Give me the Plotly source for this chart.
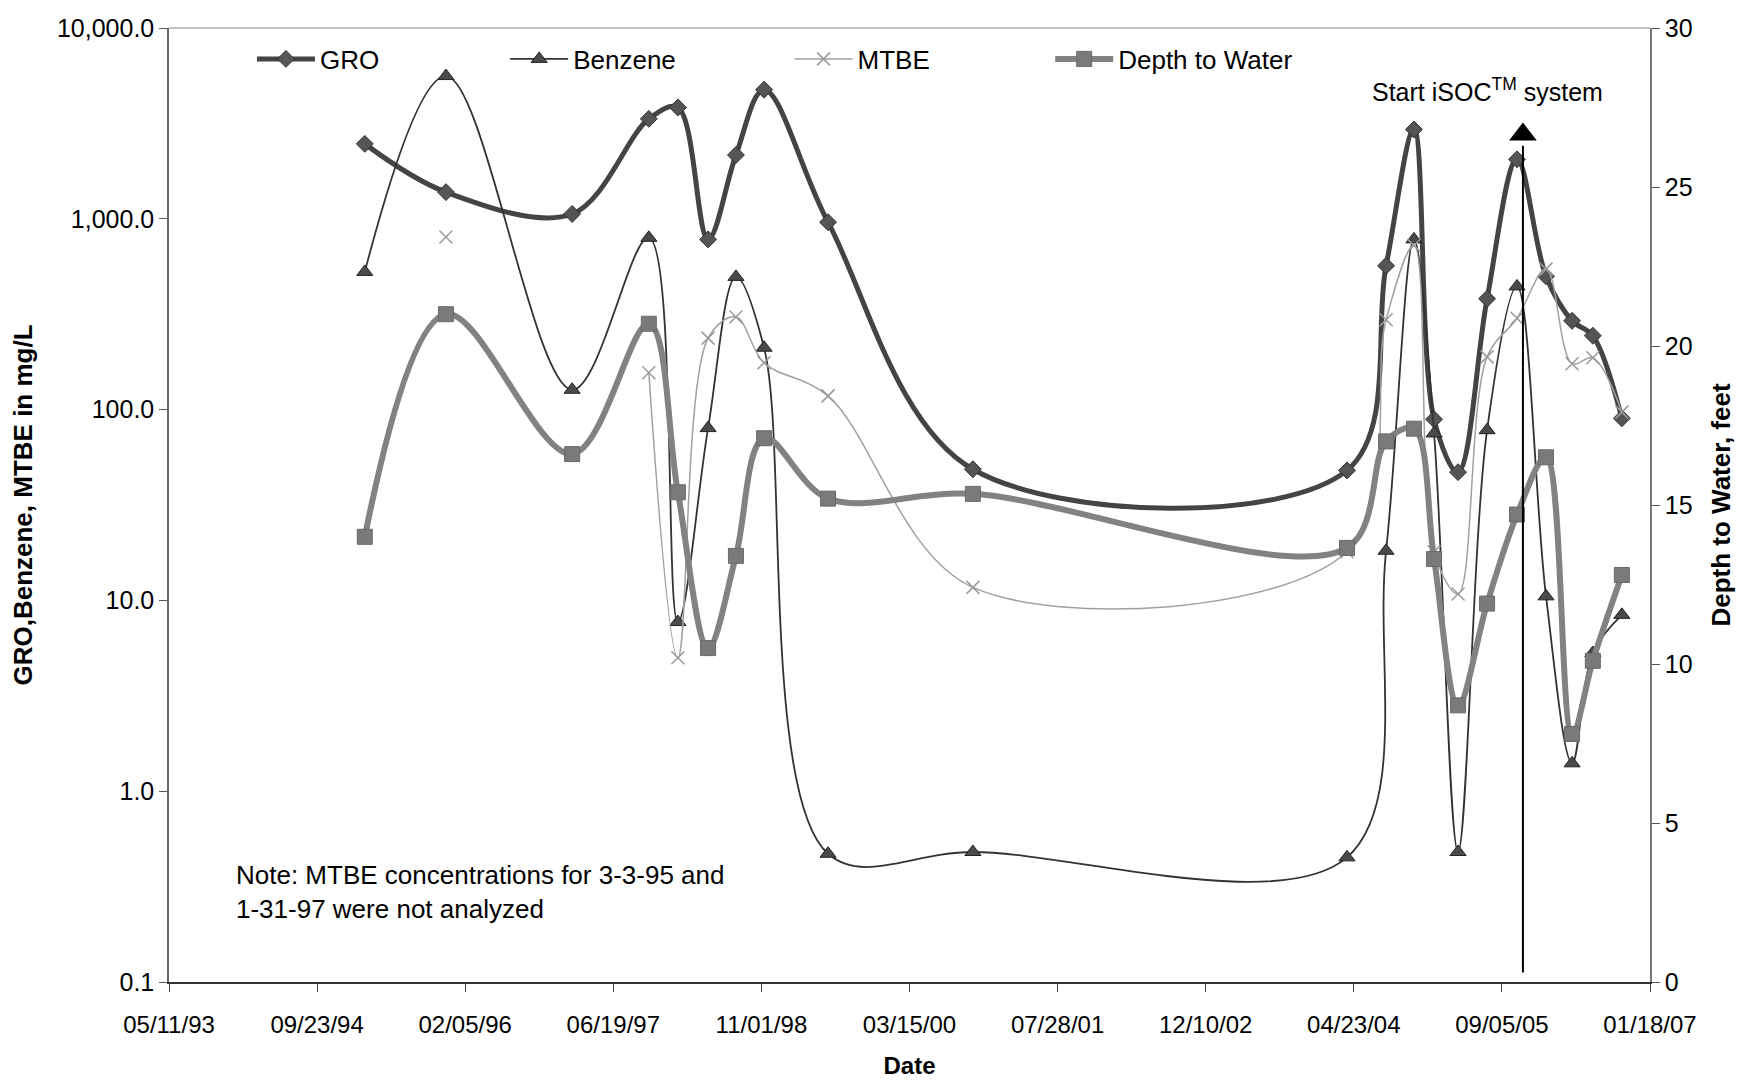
import plotly.graph_objects as go

# ---------------- data ----------------
dates = ["1995-03-03", "1995-12-02", "1997-01-31", "1997-10-17", "1998-01-23",
         "1998-05-05", "1998-08-07", "1998-11-10", "1999-06-14", "2000-10-15",
         "2004-03-31", "2004-08-10", "2004-11-12", "2005-01-19", "2005-04-10",
         "2005-07-17", "2005-10-26", "2006-02-01", "2006-04-30", "2006-07-09",
         "2006-10-15"]

gro = [2470, 1380, 1060, 3340, 3830, 780, 2160, 4750, 960, 48.7,
       48, 567, 2940, 89, 47, 381, 2050, 500, 292, 244, 90]

benzene = [527, 5600, 127, 795, 7.7, 80, 496, 211, 0.47, 0.48,
           0.45, 18.2, 780, 75, 0.48, 78, 442, 10.5, 1.4, 5.3, 8.4]

mtbe = [None, 803, None, 156, 5.0, 237, 306, 176, 118, 11.7,
        18, 296, 724, 18, 10.8, 189, 301, 545, 174, 187, 97]

depth = [14.0, 21.0, 16.6, 20.7, 15.4, 10.5, 13.4, 17.1, 15.2, 15.35,
         13.65, 17.0, 17.4, 13.3, 8.7, 11.9, 14.7, 16.5, 7.8, 10.1, 12.8]

x_tick_vals = ["1993-05-11", "1994-09-23", "1996-02-05", "1997-06-19", "1998-11-01",
               "2000-03-15", "2001-07-28", "2002-12-10", "2004-04-23", "2005-09-05",
               "2007-01-18"]
x_tick_text = ["05/11/93", "09/23/94", "02/05/96", "06/19/97", "11/01/98",
               "03/15/00", "07/28/01", "12/10/02", "04/23/04", "09/05/05", "01/18/07"]

y_tick_vals = [0.1, 1, 10, 100, 1000, 10000]
y_tick_text = ["0.1", "1.0", "10.0", "100.0", "1,000.0", "10,000.0"]
y2_tick_vals = [0, 5, 10, 15, 20, 25, 30]

isoc_date = "2005-11-15"
isoc_line_bottom = 0.3
isoc_line_top = 26.3
isoc_label_date = "2005-07-20"
isoc_label_depth = 28.05

FONT = "Arial, Liberation Sans, sans-serif"

fig = go.Figure()

fig.add_trace(go.Scatter(
    x=dates, y=gro, name="GRO", mode="lines+markers", legend="legend",
    line=dict(color="#444444", width=5, shape="spline", smoothing=1.0),
    marker=dict(symbol="diamond", size=13, color="#555555",
                line=dict(color="#333333", width=1)),
    yaxis="y"))

fig.add_trace(go.Scatter(
    x=dates, y=benzene, name="Benzene", mode="lines+markers", legend="legend2",
    line=dict(color="#333333", width=1.8, shape="spline", smoothing=1.0),
    marker=dict(symbol="triangle-up", size=14, color="#4a4a4a",
                line=dict(color="#222222", width=1)),
    yaxis="y"))

fig.add_trace(go.Scatter(
    x=dates, y=mtbe, name="MTBE", mode="lines+markers", connectgaps=False,
    legend="legend3",
    line=dict(color="#a0a0a0", width=1.5, shape="spline", smoothing=1.0),
    marker=dict(symbol="x-thin", size=13, color="#9a9a9a",
                line=dict(color="#9a9a9a", width=1.5)),
    yaxis="y"))

fig.add_trace(go.Scatter(
    x=dates, y=depth, name="Depth to Water", mode="lines+markers", legend="legend4",
    line=dict(color="#828282", width=6, shape="spline", smoothing=1.0),
    marker=dict(symbol="square", size=15, color="#7a7a7a",
                line=dict(color="#6a6a6a", width=1)),
    yaxis="y2"))

# arrow head of the iSOC start line
fig.add_trace(go.Scatter(
    x=[isoc_date], y=[isoc_line_top + 0.35], mode="markers", showlegend=False,
    hoverinfo="skip", yaxis="y2",
    marker=dict(symbol="triangle-up", size=24, color="black")))

# iSOC start line
fig.add_shape(type="line", xref="x", yref="y2",
              x0=isoc_date, x1=isoc_date, y0=isoc_line_bottom, y1=isoc_line_top,
              line=dict(color="black", width=2))
fig.add_annotation(x=isoc_label_date, y=isoc_label_depth, xref="x", yref="y2",
                   text="Start iSOC<sup>TM</sup> system", showarrow=False,
                   font=dict(family=FONT, size=25, color="black"),
                   xanchor="center", yanchor="middle")

fig.add_annotation(x=0.044, y=0.094, xref="paper", yref="paper",
                   text="Note: MTBE concentrations for 3-3-95 and<br>1-31-97 were not analyzed",
                   showarrow=False, align="left", xanchor="left", yanchor="middle",
                   font=dict(family=FONT, size=26, color="black"))

leg_common = dict(orientation="h", yanchor="middle", y=0.9675, xanchor="left",
                  bgcolor="rgba(0,0,0,0)", font=dict(family=FONT, size=26, color="black"),
                  itemwidth=58)

# the page body adds an 8 px offset; margins compensate for it
fig.update_layout(
    width=1745, height=1081,
    paper_bgcolor="white", plot_bgcolor="white",
    margin=dict(l=161, r=103, t=20, b=107, autoexpand=False),
    font=dict(family=FONT, size=24, color="black"),
    showlegend=True,
    legend=dict(x=0.056, **leg_common),
    legend2=dict(x=0.227, **leg_common),
    legend3=dict(x=0.419, **leg_common),
    legend4=dict(x=0.595, **leg_common),
    xaxis=dict(type="date", range=["1993-05-11", "2007-01-18"],
               tickvals=x_tick_vals, ticktext=x_tick_text, automargin=False,
               ticks="outside", ticklen=8, tickcolor="#444", ticklabelstandoff=12,
               showline=True, linecolor="#333", linewidth=2, mirror=False,
               showgrid=False, zeroline=False,
               tickfont=dict(family=FONT, size=24),
               title=dict(text="<b>Date</b>", font=dict(family=FONT, size=24), standoff=20)),
    yaxis=dict(type="log", range=[-1, 4], tickvals=y_tick_vals, ticktext=y_tick_text,
               automargin=False,
               ticks="outside", ticklen=8, tickcolor="#555",
               showline=True, linecolor="#666", linewidth=1.5,
               showgrid=False, zeroline=False,
               tickfont=dict(family=FONT, size=25),
               title=dict(text="<b>GRO,Benzene, MTBE in mg/L</b>",
                          font=dict(family=FONT, size=26), standoff=20)),
    yaxis2=dict(overlaying="y", side="right", range=[0, 30],
                tickvals=y2_tick_vals, automargin=False,
                ticks="outside", ticklen=8, tickcolor="#555",
                showline=True, linecolor="#777", linewidth=1.5,
                showgrid=False, zeroline=False,
                tickfont=dict(family=FONT, size=25),
                title=dict(text="<b>Depth to Water, feet</b>",
                           font=dict(family=FONT, size=26), standoff=20)),
)

# top border
fig.add_shape(type="line", xref="paper", yref="paper", x0=0, x1=1, y0=1, y1=1,
              line=dict(color="#888", width=1.2))

fig.write_html("out.html")
